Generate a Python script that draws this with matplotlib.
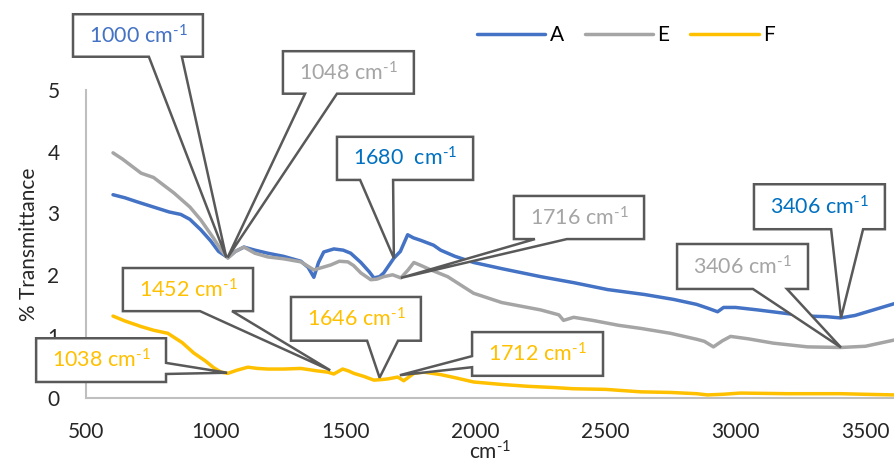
import matplotlib
matplotlib.use('Agg')
import matplotlib.pyplot as plt
from matplotlib.patches import Polygon

plt.rcParams['font.family'] = ['Lato', 'DejaVu Sans']
plt.rcParams['mathtext.fontset'] = 'custom'
plt.rcParams['mathtext.rm'] = 'Lato'
plt.rcParams['mathtext.it'] = 'Lato:italic'

# series
xA = [604, 650, 700, 760, 820, 865, 900, 942, 980, 1010, 1046, 1075, 1108, 1150, 1200, 1260, 1327, 1355,
      1377, 1395, 1415, 1454, 1490, 1519, 1558, 1590, 1608, 1630, 1646, 1685, 1710, 1738, 1760, 1788, 1838,
      1865, 1920, 1992, 2100, 2250, 2380, 2508, 2650, 2762, 2850, 2892, 2931, 2954, 3000, 3085, 3180, 3277,
      3350, 3404, 3460, 3531, 3610]
yA = [3.30, 3.25, 3.18, 3.10, 3.02, 2.98, 2.90, 2.73, 2.55, 2.38, 2.28, 2.38, 2.45, 2.40, 2.35, 2.30, 2.22, 2.12,
      1.96, 2.20, 2.37, 2.42, 2.40, 2.35, 2.20, 2.05, 1.95, 1.97, 2.03, 2.27, 2.38, 2.65, 2.60, 2.56, 2.48,
      2.40, 2.30, 2.20, 2.10, 1.97, 1.87, 1.76, 1.68, 1.60, 1.52, 1.46, 1.40, 1.47, 1.47, 1.43, 1.38, 1.33,
      1.32, 1.30, 1.34, 1.43, 1.53]

xE = [604, 640, 712, 760, 838, 900, 942, 990, 1020, 1046, 1075, 1108, 1150, 1200, 1260, 1327, 1377, 1410,
      1442, 1475, 1508, 1530, 1558, 1596, 1620, 1646, 1680, 1712, 1740, 1762, 1790, 1827, 1892, 1992, 2100,
      2250, 2320, 2338, 2377, 2450, 2550, 2635, 2750, 2854, 2880, 2915, 2950, 2981, 3050, 3146, 3277, 3404,
      3500, 3610]
yE = [3.98, 3.88, 3.65, 3.58, 3.33, 3.10, 2.89, 2.60, 2.40, 2.27, 2.38, 2.45, 2.35, 2.29, 2.26, 2.21, 2.08, 2.12,
      2.16, 2.22, 2.21, 2.15, 2.03, 1.92, 1.93, 1.97, 2.00, 1.95, 2.08, 2.20, 2.15, 2.08, 1.97, 1.70, 1.55,
      1.43, 1.35, 1.26, 1.31, 1.26, 1.18, 1.13, 1.05, 0.95, 0.92, 0.83, 0.93, 1.00, 0.96, 0.89, 0.83, 0.82,
      0.84, 0.94]

xF = [604, 650, 712, 760, 815, 870, 915, 960, 992, 1020, 1046, 1080, 1123, 1160, 1200, 1260, 1327, 1390,
      1430, 1454, 1488, 1510, 1531, 1570, 1608, 1640, 1662, 1700, 1723, 1762, 1800, 1865, 1920, 1992, 2100,
      2200, 2300, 2377, 2500, 2635, 2750, 2850, 2892, 2950, 3019, 3200, 3404, 3500, 3610]
yF = [1.33, 1.25, 1.16, 1.10, 1.05, 0.90, 0.73, 0.60, 0.49, 0.42, 0.40, 0.45, 0.50, 0.48, 0.47, 0.47, 0.48, 0.44,
      0.42, 0.39, 0.47, 0.44, 0.40, 0.35, 0.29, 0.30, 0.31, 0.34, 0.28, 0.40, 0.42, 0.38, 0.33, 0.26, 0.22,
      0.19, 0.17, 0.15, 0.14, 0.10, 0.09, 0.07, 0.05, 0.06, 0.08, 0.07, 0.07, 0.06, 0.05]

names = ['A', 'E', 'F']
colors = ['#4472C4', '#A5A5A5', '#FFC000']

sup = r'cm$^{\text{-1}}$'
# callouts: text, colour, tip point, box (x0, y0, x1, y1), side of wedge, wedge base
callouts = [
    ('1000 ' + sup, '#4472C4', (1040, 2.28), (450, 5.54, 950, 6.23), 'bottom', (742, 869)),
    ('1048 ' + sup, '#A5A5A5', (1045, 2.28), (1258, 4.94, 1762, 5.63), 'bottom', (1343, 1466)),
    ('1680  ' + sup, '#0070C0', (1685, 2.27), (1466, 3.54, 1990, 4.24), 'bottom', (1555, 1682)),
    ('1716 ' + sup, '#A5A5A5', (1712, 1.95), (2147, 2.58, 2648, 3.28), 'bottom', (2228, 2351)),
    ('3406 ' + sup, '#0070C0', (3406, 1.30), (3071, 2.74, 3575, 3.47), 'bottom', (3368, 3491)),
    ('3406 ' + sup, '#A5A5A5', (3406, 0.82), (2775, 1.77, 3279, 2.50), 'bottom', (3067, 3198)),
    ('1452 ' + sup, '#FFC000', (1440, 0.45), (642, 1.41, 1143, 2.11), 'bottom', (939, 1062)),
    ('1646 ' + sup, '#FFC000', (1630, 0.33), (1289, 0.93, 1789, 1.64), 'bottom', (1582, 1701)),
    ('1038 ' + sup, '#FFC000', (1043, 0.41), (308, 0.26, 808, 0.97), 'right', (0.39, 0.57)),
    ('1712 ' + sup, '#FFC000', (1708, 0.37), (1986, 0.36, 2490, 1.07), 'left', (0.50, 0.68)),
]


def callout(ax, text, color, tip, box, side, base):
    x0, y0, x1, y1 = box
    a, b = base
    pts = [(x0, y1), (x1, y1)]
    if side == 'right':
        pts += [(x1, b), tip, (x1, a)]
    pts += [(x1, y0)]
    if side == 'bottom':
        pts += [(b, y0), tip, (a, y0)]
    pts += [(x0, y0)]
    if side == 'left':
        pts += [(x0, a), tip, (x0, b)]
    poly = Polygon(pts, closed=True, facecolor='white', edgecolor='#595959',
                   linewidth=1.8, joinstyle='miter', clip_on=False, zorder=5)
    ax.add_patch(poly)
    ax.text((x0 + x1) / 2, (y0 + y1) / 2, text, color=color, fontsize=15.5,
            ha='center', va='center', zorder=6, clip_on=False)


fig = plt.figure(figsize=(8.94, 4.68), dpi=100)
ax = fig.add_axes([86 / 894, 1 - 398 / 468, 1 - 86 / 894, 308 / 468])

for xs, ys, n, c in zip([xA, xE, xF], [yA, yE, yF], names, colors):
    ax.plot(xs, ys, color=c, linewidth=2.5, label=n, solid_capstyle='round', zorder=3)

for co in callouts:
    callout(ax, *co)

ax.set_xlim(500, 3610)
ax.set_ylim(0, 5)
ax.set_xticks([500, 1000, 1500, 2000, 2500, 3000, 3500])
ax.set_yticks([0, 1, 2, 3, 4, 5])
ax.tick_params(length=0, labelsize=15, labelcolor='#262626')
ax.tick_params(axis='x', pad=17)
ax.tick_params(axis='y', pad=19)
for s in ['top', 'right']:
    ax.spines[s].set_visible(False)
for s in ['left', 'bottom']:
    ax.spines[s].set_color('#BFBFBF')
    ax.spines[s].set_linewidth(1.5)
ax.set_xlabel(sup, fontsize=15, color='#262626', labelpad=-1)
ax.set_ylabel('% Transmittance', fontsize=15, color='#262626', labelpad=6)

fig.legend(loc='center', bbox_to_anchor=(0.70, 1 - 35 / 468), ncol=3, frameon=False,
           fontsize=15, handlelength=3.3, handletextpad=0.2, columnspacing=1.0)

fig.savefig('out.png', dpi=100)
